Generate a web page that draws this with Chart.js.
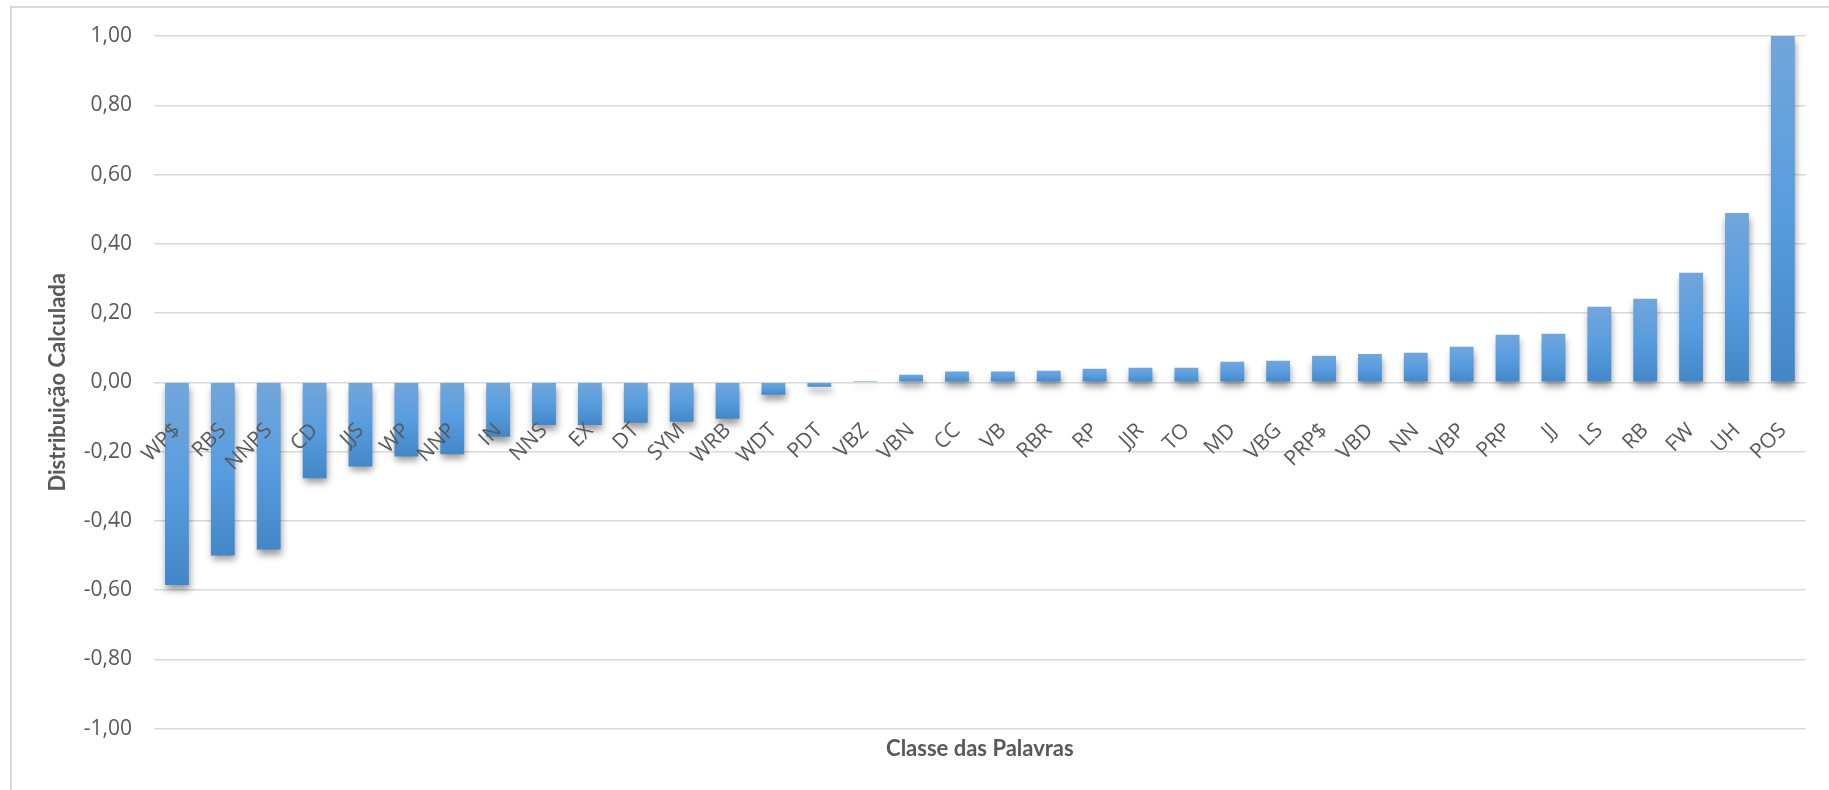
<!DOCTYPE html>
<html>
<head>
<meta charset="utf-8">
<script src="https://cdn.jsdelivr.net/npm/chart.js@4/dist/chart.umd.min.js"></script>
<style>
  html, body { margin: 0; padding: 0; background: #fff; overflow: hidden; }
  #frame { position: absolute; left: 10px; top: 6px; width: 1900px; height: 900px;
           border: 2px solid #d9d9d9; box-sizing: border-box; }
  #graph { position: absolute; left: 0; top: 0; }
</style>
</head>
<body>
<div id="frame"></div>
<canvas id="graph" width="1829" height="790"></canvas>
<script>
// word classes (POS tags), sorted by value
const classes = ["WP$", "RBS", "NNPS", "CD", "JJS", "WP", "NNP", "IN", "NNS", "EX",
  "DT", "SYM", "WRB", "WDT", "PDT", "VBZ", "VBN", "CC", "VB", "RBR",
  "RP", "JJR", "TO", "MD", "VBG", "PRP$", "VBD", "NN", "VBP", "PRP",
  "JJ", "LS", "RB", "FW", "UH", "POS"];

const distribution = [-0.585, -0.500, -0.483, -0.277, -0.243, -0.214, -0.208, -0.157, -0.123, -0.123,
  -0.117, -0.114, -0.105, -0.036, -0.013, 0.004, 0.022, 0.031, 0.031, 0.033,
  0.039, 0.042, 0.042, 0.059, 0.062, 0.077, 0.082, 0.085, 0.103, 0.137,
  0.140, 0.218, 0.241, 0.316, 0.489, 1.000];

const yMin = -1;
const yMax = 1;
const yStep = 0.2;

const grey = "#595959";

// -------------------------
// gradient per bar (light top -> darker bottom)
// -------------------------
function barFill(c) {
  const chart = c.chart;
  if (!chart.chartArea || c.type !== "data") return "#5b9bd5";
  const y = chart.scales.y;
  const v = c.raw;
  const top = y.getPixelForValue(Math.max(v, 0));
  let bot = y.getPixelForValue(Math.min(v, 0));
  if (bot - top < 1) bot = top + 1;
  const g = chart.ctx.createLinearGradient(0, top, 0, bot);
  g.addColorStop(0, "#72a6db");
  g.addColorStop(0.5, "#589ddf");
  g.addColorStop(1, "#4387c8");
  return g;
}

// drop shadow under the bars
const barShadow = {
  id: "barShadow",
  beforeDatasetsDraw(chart) {
    const ctx = chart.ctx;
    ctx.save();
    ctx.shadowColor = "rgba(0,0,0,0.4)";
    ctx.shadowBlur = 7;
    ctx.shadowOffsetX = 1;
    ctx.shadowOffsetY = 5;
  },
  afterDatasetsDraw(chart) {
    chart.ctx.restore();
  }
};

function fmt(v) {
  if (Math.abs(v) < 1e-9) v = 0;
  return v.toFixed(2).replace(".", ",");
}

const ctx = document.getElementById("graph").getContext("2d");

new Chart(ctx, {
  type: "bar",
  data: {
    labels: classes,
    datasets: [{
      label: "Distribuição Calculada",
      data: distribution,
      backgroundColor: barFill,
      borderWidth: 0,
      categoryPercentage: 1,
      barPercentage: 0.52
    }]
  },
  options: {
    responsive: false,
    animation: false,
    layout: { padding: { top: 36, right: 19, bottom: 0, left: 0 } },
    plugins: {
      legend: { display: false },
      tooltip: { enabled: false },
      title: {
        display: true,
        position: "bottom",
        fullSize: false,
        text: "Classe das Palavras",
        color: grey,
        font: { family: "Lato", size: 22, weight: "bold" },
        padding: { top: 7, bottom: 28 }
      }
    },
    scales: {
      x: {
        position: { y: 0 },
        grid: { display: false },
        border: { display: false },
        ticks: {
          z: 1, // labels on top of the bars
          autoSkip: false,
          maxRotation: 45,
          minRotation: 45,
          padding: 28,
          color: grey,
          font: { family: "Open Sans", size: 21 }
        }
      },
      y: {
        min: yMin,
        max: yMax,
        afterFit: (s) => { s.width = 154; },
        grid: { color: "#d9d9d9", lineWidth: 1.5, drawTicks: false },
        border: { display: false },
        ticks: {
          stepSize: yStep,
          padding: 22,
          color: grey,
          font: { family: "Open Sans", size: 21 },
          callback: (v) => fmt(v)
        },
        title: {
          display: true,
          text: "Distribuição Calculada",
          color: grey,
          font: { family: "Lato", size: 22, weight: "bold" },
          padding: { top: 45, bottom: 0 }
        }
      }
    }
  },
  plugins: [barShadow]
});
</script>
</body>
</html>
